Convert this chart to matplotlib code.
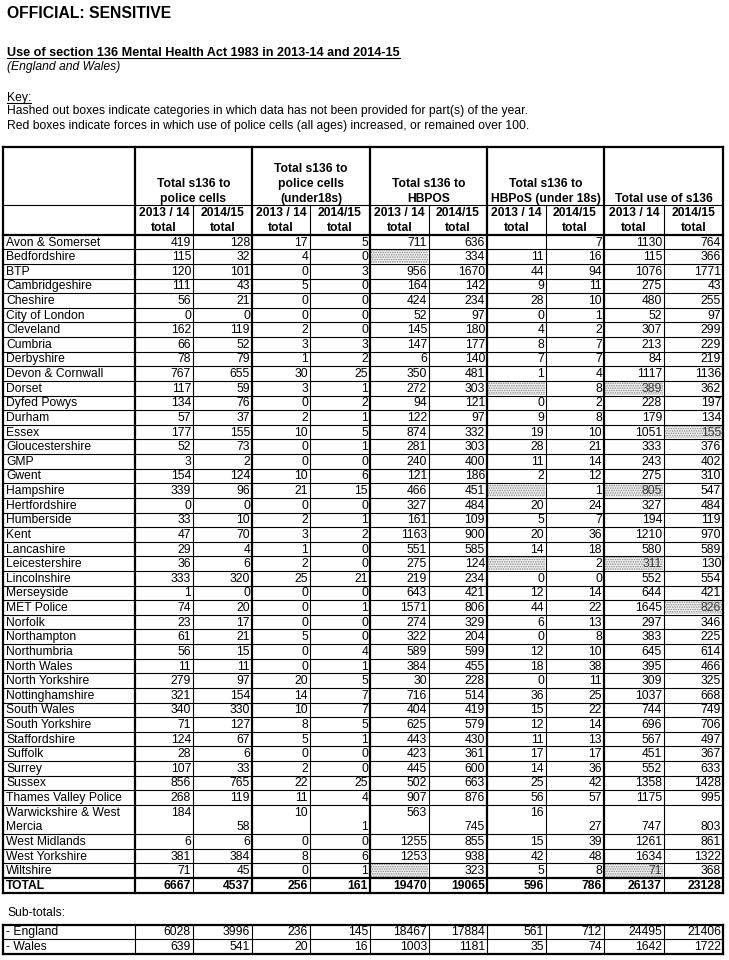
import matplotlib
matplotlib.use('Agg')
import matplotlib.pyplot as plt
from matplotlib.patches import Rectangle

plt.rcParams['font.family'] = ['Liberation Sans', 'DejaVu Sans']
plt.rcParams['hatch.color'] = '#8c8c8c'
plt.rcParams['hatch.linewidth'] = 0.7

# ---------------- data ----------------
forces = ["Avon & Somerset", "Bedfordshire", "BTP", "Cambridgeshire", "Cheshire",
          "City of London", "Cleveland", "Cumbria", "Derbyshire", "Devon & Cornwall",
          "Dorset", "Dyfed Powys", "Durham", "Essex", "Gloucestershire", "GMP", "Gwent",
          "Hampshire", "Hertfordshire", "Humberside", "Kent", "Lancashire",
          "Leicestershire", "Lincolnshire", "Merseyside", "MET Police", "Norfolk",
          "Northampton", "Northumbria", "North Wales", "North Yorkshire",
          "Nottinghamshire", "South Wales", "South Yorkshire", "Staffordshire",
          "Suffolk", "Surrey", "Sussex", "Thames Valley Police",
          "Warwickshire & West\nMercia", "West Midlands", "West Yorkshire", "Wiltshire"]

cells_1314 = [419, 115, 120, 111, 56, 0, 162, 66, 78, 767, 117, 134, 57, 177, 52, 3, 154,
              339, 0, 33, 47, 29, 36, 333, 1, 74, 23, 61, 56, 11, 279, 321, 340, 71, 124,
              28, 107, 856, 268, 184, 6, 381, 71]
cells_1415 = [128, 32, 101, 43, 21, 0, 119, 52, 79, 655, 59, 76, 37, 155, 73, 2, 124,
              96, 0, 10, 70, 4, 6, 320, 0, 20, 17, 21, 15, 11, 97, 154, 330, 127, 67,
              6, 33, 765, 119, 58, 6, 384, 45]
u18_1314 = [17, 4, 0, 5, 0, 0, 2, 3, 1, 30, 3, 0, 2, 10, 0, 0, 10, 21, 0, 2, 3, 1, 2, 25,
            0, 0, 0, 5, 0, 0, 20, 14, 10, 8, 5, 0, 2, 22, 11, 10, 0, 8, 0]
u18_1415 = [5, 0, 3, 0, 0, 0, 0, 3, 2, 25, 1, 2, 1, 5, 1, 0, 6, 15, 0, 1, 2, 0, 0, 21,
            0, 1, 0, 0, 4, 1, 5, 7, 7, 5, 1, 0, 0, 25, 4, 1, 0, 6, 1]
hbpos_1314 = [711, None, 956, 164, 424, 52, 145, 147, 6, 350, 272, 94, 122, 874, 281, 240,
              121, 466, 327, 161, 1163, 551, 275, 219, 643, 1571, 274, 322, 589, 384, 30,
              716, 404, 625, 443, 423, 445, 502, 907, 563, 1255, 1253, None]
hbpos_1415 = [636, 334, 1670, 142, 234, 97, 180, 177, 140, 481, 303, 121, 97, 332, 303,
              400, 186, 451, 484, 109, 900, 585, 124, 234, 421, 806, 329, 204, 599, 455,
              228, 514, 419, 579, 430, 361, 600, 663, 876, 745, 855, 938, 323]
hu18_1314 = [None, 11, 44, 9, 28, 0, 4, 8, 7, 1, None, 0, 9, 19, 28, 11, 2, None, 20, 5,
             20, 14, None, 0, 12, 44, 6, 0, 12, 18, 0, 36, 15, 12, 11, 17, 14, 25, 56, 16,
             15, 42, 5]
hu18_1415 = [7, 16, 94, 11, 10, 1, 2, 7, 7, 4, 8, 2, 8, 10, 21, 14, 12, 1, 24, 7, 36, 18,
             2, 0, 14, 22, 13, 8, 10, 38, 11, 25, 22, 14, 13, 17, 36, 42, 57, 27, 39, 48, 8]
total_1314 = [1130, 115, 1076, 275, 480, 52, 307, 213, 84, 1117, 389, 228, 179, 1051, 333,
              243, 275, 805, 327, 194, 1210, 580, 311, 552, 644, 1645, 297, 383, 645, 395,
              309, 1037, 744, 696, 567, 451, 552, 1358, 1175, 747, 1261, 1634, 71]
total_1415 = [764, 366, 1771, 43, 255, 97, 299, 229, 219, 1136, 362, 197, 134, 155, 376,
              402, 310, 547, 484, 119, 970, 589, 130, 554, 421, 826, 346, 225, 614, 466,
              325, 668, 749, 706, 497, 367, 633, 1428, 995, 803, 861, 1322, 368]

totals_row = [6667, 4537, 256, 161, 19470, 19065, 596, 786, 26137, 23128]
england_row = [6028, 3996, 236, 145, 18467, 17884, 561, 712, 24495, 21406]
wales_row = [639, 541, 20, 16, 1003, 1181, 35, 74, 1642, 1722]

group_titles = [["Total s136 to", "police cells"],
                ["Total s136 to", "police cells", "(under18s)"],
                ["Total s136 to", "HBPOS"],
                ["Total s136 to", "HBPoS (under 18s)"],
                ["Total use of s136"]]
year_labels = ["2013 / 14", "2014/15"]

# hashed cells: (force, column index)
hashed = [("Bedfordshire", 4), ("Dorset", 6), ("Dorset", 8), ("Essex", 9),
          ("Hampshire", 6), ("Hampshire", 8), ("Leicestershire", 6),
          ("Leicestershire", 8), ("MET Police", 9), ("Wiltshire", 4), ("Wiltshire", 8)]

columns = [cells_1314, cells_1415, u18_1314, u18_1415, hbpos_1314, hbpos_1415,
           hu18_1314, hu18_1415, total_1314, total_1415]

# ---------------- layout ----------------
fig = plt.figure(figsize=(7.29, 9.6), dpi=100)
ax = fig.add_axes([0, 0, 1, 1])
ax.set_xlim(0, 729)
ax.set_ylim(960, 0)
ax.axis('off')

FS = 8.75
THICK = 1.6
THIN = 0.8
col_edges = [3, 135, 193, 252, 310, 370, 429, 487, 546, 604, 664, 723]
RH = 14.62
top = 147.0
y_grp = top + 4 * RH
y_hdr = top + 6 * RH
L, R = col_edges[0], col_edges[-1]


def hline(y, x0, x1, lw):
    ax.plot([x0, x1], [y, y], color='black', lw=lw, solid_capstyle='projecting')


def vline(x, y0, y1, lw):
    ax.plot([x, x], [y0, y1], color='black', lw=lw, solid_capstyle='projecting')


def underline_text(t, y_line):
    fig.canvas.draw()
    bb = t.get_window_extent()
    inv = ax.transData.inverted()
    (x0, _), (x1, _) = inv.transform([[bb.x0, bb.y0], [bb.x1, bb.y1]])
    ax.plot([x0, x1], [y_line, y_line], color='black', lw=0.8)


# top texts
ax.text(7, 14, "OFFICIAL: SENSITIVE", fontsize=11.3, fontweight='bold', va='center', ha='left')
t1 = ax.text(7, 56, "Use of section 136 Mental Health Act 1983 in 2013-14 and 2014-15",
             fontsize=9.05, fontweight='bold', va='baseline', ha='left')
ax.text(7, 67, "(England and Wales)", fontsize=FS, fontstyle='italic', va='center', ha='left')
t2 = ax.text(7, 101, "Key:", fontsize=FS, va='baseline', ha='left')
ax.text(7, 111, "Hashed out boxes indicate categories in which data has not been provided for part(s) of the year.",
        fontsize=FS, va='center', ha='left')
ax.text(7, 126, "Red boxes indicate forces in which use of police cells (all ages) increased, or remained over 100.",
        fontsize=FS, va='center', ha='left')

# header text
for g, lines in enumerate(group_titles):
    xc = (col_edges[1 + 2 * g] + col_edges[3 + 2 * g]) / 2
    n = len(lines)
    for k, s in enumerate(lines):
        yc = y_grp - (n - k - 0.5) * RH
        ax.text(xc, yc + 0.5, s, fontsize=FS, fontweight='bold', ha='center', va='center')
    for j in range(2):
        xcc = (col_edges[1 + 2 * g + j] + col_edges[2 + 2 * g + j]) / 2
        ax.text(xcc, y_grp + 0.5 * RH + 0.5, year_labels[j], fontsize=FS, fontweight='bold',
                ha='center', va='center')
        ax.text(xcc, y_grp + 1.5 * RH + 0.5, "total", fontsize=FS, fontweight='bold',
                ha='center', va='center')

# data rows
hashed_set = set(hashed)
y = y_hdr
row_lines = []
for i, name in enumerate(forces):
    span = 2 if "\n" in name else 1
    parts = name.split("\n")
    for k, p in enumerate(parts):
        ax.text(6, y + (k + 0.5) * RH + 0.5, p, fontsize=FS, ha='left', va='center')
    for c, col in enumerate(columns):
        v = col[i]
        x0, x1 = col_edges[c + 1], col_edges[c + 2]
        if (name, c) in hashed_set:
            ax.add_patch(Rectangle((x0 + 1, y + 1), x1 - x0 - 2, RH * span - 2,
                                   facecolor='#ededed', edgecolor='#8c8c8c', lw=0,
                                   hatch='.......', zorder=1))
        if v is None:
            continue
        if span == 2:
            k = 0 if (c % 2 == 0 and c < 8) else 1
        else:
            k = 0
        col_txt = '#3a3a3a' if (name, c) in hashed_set else 'black'
        ax.text(x1 - 2, y + (k + 0.5) * RH + 0.5, str(v), fontsize=FS, ha='right',
                va='center', color=col_txt, zorder=3)
    y += span * RH
    row_lines.append(y)

# TOTAL row
y_tot = y
ax.text(6, y_tot + 0.5 * RH + 0.5, "TOTAL", fontsize=FS, fontweight='bold', ha='left', va='center')
for c, v in enumerate(totals_row):
    ax.text(col_edges[c + 2] - 2, y_tot + 0.5 * RH + 0.5, str(v), fontsize=FS,
            fontweight='bold', ha='right', va='center')
y_end = y_tot + RH

# grid lines
for yy in row_lines[:-1]:
    hline(yy, L, R, THIN)
hline(top, L, R, THICK)
hline(y_grp, L, R, THIN)
hline(y_hdr, L, R, THICK)
hline(y_tot, L, R, THICK)
hline(y_end, L, R, THICK)
for k, x in enumerate(col_edges):
    if k in (0, len(col_edges) - 1) or k % 2 == 1:
        vline(x, top, y_end, THICK)
    else:
        vline(x, y_grp, y_end, THIN)

# Sub-totals
ax.text(7, 913, "Sub-totals:", fontsize=FS, ha='left', va='center')
sub_top = 924.5
sub_rows = [("- England", england_row), ("- Wales", wales_row)]
for r, (lab, vals) in enumerate(sub_rows):
    yc = sub_top + (r + 0.5) * RH + 0.5
    ax.text(6, yc, lab, fontsize=FS, ha='left', va='center')
    for c, v in enumerate(vals):
        ax.text(col_edges[c + 2] - 2, yc, str(v), fontsize=FS, ha='right', va='center')
sub_end = sub_top + 2 * RH
hline(sub_top, L, R, THICK)
hline(sub_top + RH, L, R, THIN)
hline(sub_end, L, R, THICK)
for k, x in enumerate(col_edges):
    lw = THICK if k in (0, len(col_edges) - 1) else THIN
    vline(x, sub_top, sub_end, lw)

underline_text(t1, 57.8)
underline_text(t2, 102.8)

fig.savefig("out.png", dpi=100)
